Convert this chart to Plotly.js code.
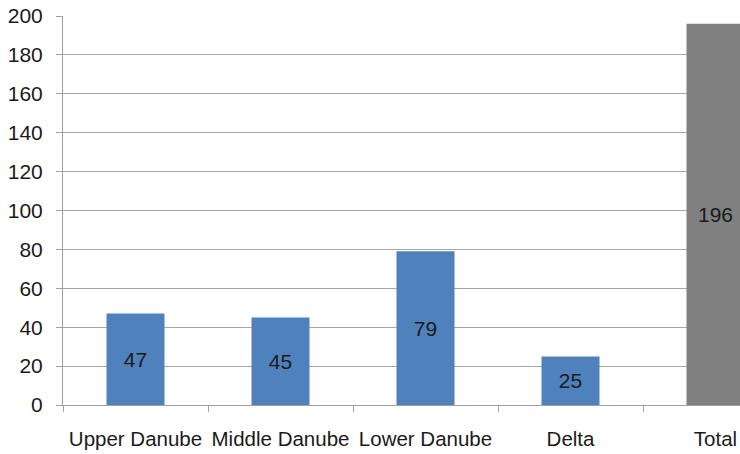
<!DOCTYPE html>
<html>
<head>
<meta charset="utf-8">
<script src="https://cdn.plot.ly/plotly-3.0.1.min.js"></script>
<style>html,body{margin:0;padding:0;background:#fff;}#chart{width:740px;height:454px;}</style>
</head>
<body>
<div id="chart"></div>
<script>
var categories = ["Upper Danube", "Middle Danube", "Lower Danube", "Delta", "Total"];
var values = [47, 45, 79, 25, 196];
var yTicks = [0, 20, 40, 60, 80, 100, 120, 140, 160, 180, 200];

var BLUE = "#4f81bd", GRAY = "#808080";
var colors = categories.map(function (c) { return c === "Total" ? GRAY : BLUE; });

var trace = {
  type: "bar",
  x: categories,
  y: values,
  width: 0.4,
  marker: { color: colors },
  text: values.map(String),
  textposition: "inside",
  insidetextanchor: "middle",
  constraintext: "none",
  textfont: { family: "Liberation Sans, Arial, sans-serif", size: 21, color: "#1a1a1a" },
  hoverinfo: "none"
};

var layout = {
  width: 740,
  height: 454,
  margin: { l: 63, r: 0, t: 16, b: 49 },
  paper_bgcolor: "#ffffff",
  plot_bgcolor: "#ffffff",
  showlegend: false,
  font: { family: "Liberation Sans, Arial, sans-serif", size: 21, color: "#1a1a1a" },
  xaxis: {
    type: "category",
    range: [-0.5, 4.169],
    tickson: "boundaries",
    tickangle: 0,
    ticks: "outside",
    ticklen: 6,
    tickcolor: "#a0a0a0",
    showgrid: false,
    showline: true,
    linecolor: "#a0a0a0",
    linewidth: 1,
    ticklabelstandoff: 15,
    tickfont: { size: 20.5 },
    fixedrange: true
  },
  yaxis: {
    range: [0, 200],
    tickvals: yTicks,
    ticktext: yTicks.map(String),
    ticks: "outside",
    ticklen: 6,
    tickcolor: "#a0a0a0",
    showgrid: true,
    gridcolor: "#a6a6a6",
    gridwidth: 1,
    zeroline: false,
    showline: true,
    linecolor: "#a0a0a0",
    linewidth: 1,
    ticklabelstandoff: 9,
    tickfont: { size: 21 },
    fixedrange: true
  }
};

Plotly.newPlot("chart", [trace], layout, { displayModeBar: false, staticPlot: true });
</script>
</body>
</html>
